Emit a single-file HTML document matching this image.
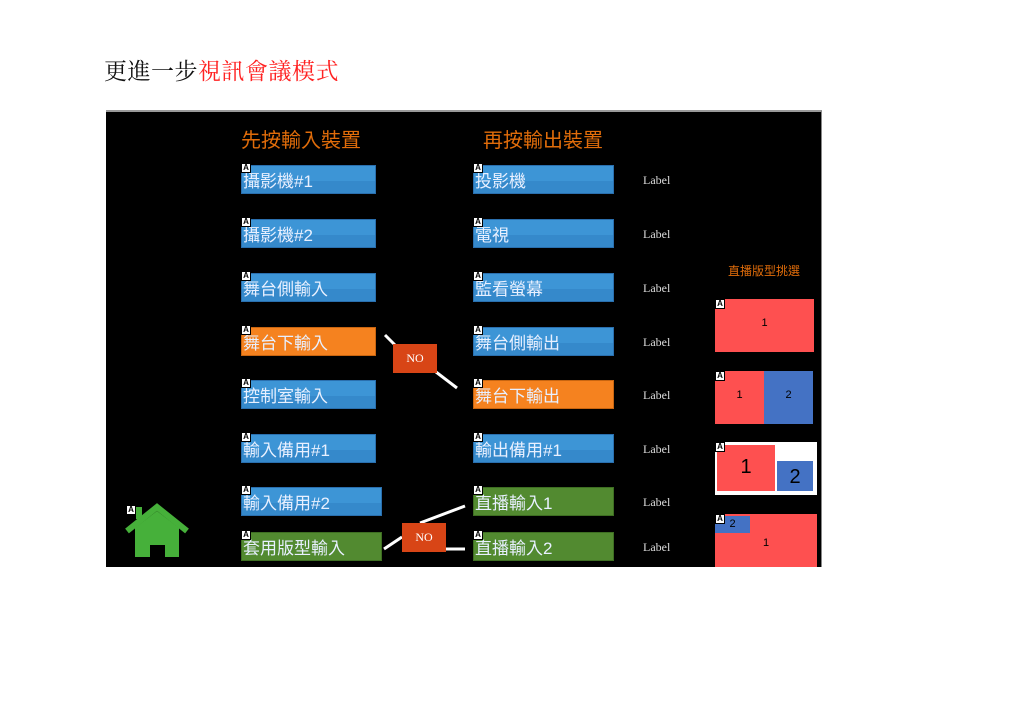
<!DOCTYPE html>
<html><head><meta charset="utf-8"><style>
body{margin:0;width:1024px;height:709px;background:#fff;position:relative;overflow:hidden;font-family:"Liberation Sans","Noto Sans CJK TC",sans-serif}
.a{position:absolute}
.panel{left:106px;top:110px;width:716px;height:457px;background:#000;border-top:2px solid #999;border-right:1px solid #888;box-sizing:border-box}
.b{position:absolute;height:29px;color:#e8f0ff;font-size:17px;line-height:31px;box-sizing:border-box;padding-left:1px;white-space:nowrap;overflow:hidden}
.bl{background:linear-gradient(#3d95d6 0 55%,#3589cb 55%);border:1px solid #2a6fae}
.or{background:#f5821f;border:1px solid #c86510}
.gr{background:#528a30;border:1px solid #3e6e22}
.ic{position:absolute;width:8px;height:8px;background:#fff;border:1px solid #000;font-size:8px;line-height:8px;text-align:center;font-weight:bold;color:#000}
.lab{position:absolute;left:643px;color:#ddd;font-family:"Liberation Serif",serif;font-size:12px}
.no{position:absolute;background:#d84516;color:#fff;font-family:"Liberation Serif",serif;font-size:12px;text-align:center}
.hd{position:absolute;color:#e06c0a;font-size:20px}
</style></head><body>
<div class="a" style="left:104px;top:53px;font-size:23px;font-family:'Liberation Serif','Noto Serif CJK SC',serif;letter-spacing:0.5px"><span style="color:#111">更進一步</span><span style="color:#f22">視訊會議模式</span></div>
<div class="a panel"></div>
<div class="hd" style="left:241px;top:124px">先按輸入裝置</div>
<div class="hd" style="left:483px;top:124px">再按輸出裝置</div>
<div class="a" style="left:728px;top:262px;color:#e06c0a;font-size:12px">直播版型挑選</div>

<div class="b bl" style="left:241px;top:165px;width:135px">攝影機#1</div>
<div class="b bl" style="left:241px;top:219px;width:135px">攝影機#2</div>
<div class="b bl" style="left:241px;top:273px;width:135px">舞台側輸入</div>
<div class="b or" style="left:241px;top:327px;width:135px">舞台下輸入</div>
<div class="b bl" style="left:241px;top:380px;width:135px">控制室輸入</div>
<div class="b bl" style="left:241px;top:434px;width:135px">輸入備用#1</div>
<div class="b bl" style="left:241px;top:487px;width:141px">輸入備用#2</div>
<div class="b gr" style="left:241px;top:532px;width:141px">套用版型輸入</div>

<div class="b bl" style="left:473px;top:165px;width:141px">投影機</div>
<div class="b bl" style="left:473px;top:219px;width:141px">電視</div>
<div class="b bl" style="left:473px;top:273px;width:141px">監看螢幕</div>
<div class="b bl" style="left:473px;top:327px;width:141px">舞台側輸出</div>
<div class="b or" style="left:473px;top:380px;width:141px">舞台下輸出</div>
<div class="b bl" style="left:473px;top:434px;width:141px">輸出備用#1</div>
<div class="b gr" style="left:473px;top:487px;width:141px">直播輸入1</div>
<div class="b gr" style="left:473px;top:532px;width:141px">直播輸入2</div>

<div class="ic" style="left:241px;top:163px">A</div><div class="ic" style="left:241px;top:217px">A</div><div class="ic" style="left:241px;top:271px">A</div><div class="ic" style="left:241px;top:325px">A</div><div class="ic" style="left:241px;top:378px">A</div><div class="ic" style="left:241px;top:432px">A</div><div class="ic" style="left:241px;top:485px">A</div><div class="ic" style="left:241px;top:530px">A</div>
<div class="ic" style="left:473px;top:163px">A</div><div class="ic" style="left:473px;top:217px">A</div><div class="ic" style="left:473px;top:271px">A</div><div class="ic" style="left:473px;top:325px">A</div><div class="ic" style="left:473px;top:378px">A</div><div class="ic" style="left:473px;top:432px">A</div><div class="ic" style="left:473px;top:485px">A</div><div class="ic" style="left:473px;top:530px">A</div>

<div class="lab" style="top:173px">Label</div><div class="lab" style="top:227px">Label</div><div class="lab" style="top:281px">Label</div><div class="lab" style="top:335px">Label</div><div class="lab" style="top:388px">Label</div><div class="lab" style="top:442px">Label</div><div class="lab" style="top:495px">Label</div><div class="lab" style="top:540px">Label</div>

<svg class="a" style="left:0;top:0" width="1024" height="709">
<g stroke="#fff" stroke-width="3" fill="none">
<line x1="385" y1="335" x2="395" y2="345"/><line x1="436" y1="372" x2="457" y2="388"/>
<line x1="384" y1="549" x2="402" y2="537"/><line x1="420" y1="523" x2="465" y2="506"/><line x1="446" y1="549" x2="465" y2="549"/>
</g>
<rect x="136" y="507" width="6" height="12" fill="#46b03a"/>
<polygon points="135,528 157,511 179,528 179,557 165,557 165,545 150,545 150,557 135,557" fill="#46b03a"/>
<polyline points="127,531 157,507 187,531" stroke="#46b03a" stroke-width="6" fill="none"/>
</svg>
<div class="ic" style="left:126px;top:505px">A</div>
<div class="no" style="left:393px;top:344px;width:44px;height:29px;line-height:29px">NO</div>
<div class="no" style="left:402px;top:523px;width:44px;height:29px;line-height:29px">NO</div>

<div class="a" style="left:715px;top:299px;width:99px;height:53px;background:#fe5050;font-size:11px;text-align:center;line-height:48px">1</div>
<div class="a" style="left:715px;top:371px;width:49px;height:53px;background:#fe5050;font-size:11px;text-align:center;line-height:48px">1</div>
<div class="a" style="left:764px;top:371px;width:49px;height:53px;background:#4472c4;font-size:11px;text-align:center;line-height:48px">2</div>
<div class="a" style="left:715px;top:442px;width:102px;height:53px;background:#fff"></div>
<div class="a" style="left:717px;top:445px;width:58px;height:46px;background:#fe5050;font-size:20px;text-align:center;line-height:44px">1</div>
<div class="a" style="left:777px;top:461px;width:36px;height:30px;background:#4472c4;font-size:20px;text-align:center;line-height:32px">2</div>
<div class="a" style="left:715px;top:514px;width:102px;height:53px;background:#fe5050;font-size:11px;text-align:center;line-height:58px">1</div>
<div class="a" style="left:715px;top:516px;width:35px;height:17px;background:#4472c4;font-size:11px;text-align:center;line-height:17px">2</div>
<div class="ic" style="left:715px;top:299px">A</div><div class="ic" style="left:715px;top:371px">A</div><div class="ic" style="left:715px;top:442px">A</div><div class="ic" style="left:715px;top:514px">A</div>
</body></html>
